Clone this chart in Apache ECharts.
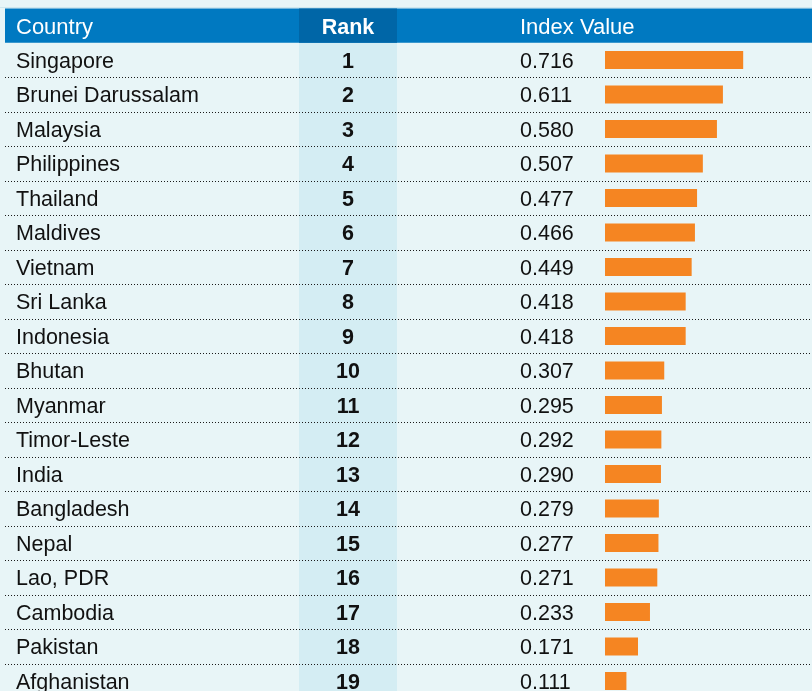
<!DOCTYPE html>
<html><head><meta charset="utf-8">
<script src="https://cdn.jsdelivr.net/npm/echarts@6/dist/echarts.min.js"></script>
<style>html,body{margin:0;padding:0;background:#e8f5f7}#c{width:812px;height:691px}</style>
</head><body><div id="c"></div>
<script>
const headers = ['Country', 'Rank', 'Index Value'];
const countries = ['Singapore','Brunei Darussalam','Malaysia','Philippines','Thailand','Maldives','Vietnam','Sri Lanka','Indonesia','Bhutan','Myanmar','Timor-Leste','India','Bangladesh','Nepal','Lao, PDR','Cambodia','Pakistan','Afghanistan'];
const ranks = [1,2,3,4,5,6,7,8,9,10,11,12,13,14,15,16,17,18,19];
const values = [0.716,0.611,0.580,0.507,0.477,0.466,0.449,0.418,0.418,0.307,0.295,0.292,0.290,0.279,0.277,0.271,0.233,0.171,0.111];

const FONT = '"Liberation Sans", Arial, Helvetica, sans-serif';
const TOP = 42.75, H = 655.5;
const chart = echarts.init(document.getElementById('c'));
const labelBase = {fontFamily: FONT, fontSize: 21.5, color: '#111', inside: true};
const hiddenAxisParts = {axisLine: {show: false}, axisTick: {show: false}};

chart.setOption({
  animation: false,
  backgroundColor: '#e8f5f7',
  graphic: [
    {type: 'rect', z: -5, silent: true, shape: {x: 299, y: TOP, width: 98, height: 691 - TOP}, style: {fill: '#d4edf3'}},
    {type: 'rect', z: 100, silent: true, shape: {x: 0, y: 7, width: 812, height: 1}, style: {fill: '#cfe7ee'}},
    {type: 'rect', z: 100, silent: true, shape: {x: 5, y: 8.5, width: 807, height: TOP - 8.5}, style: {fill: '#0079c1'}},
    {type: 'rect', z: 101, silent: true, shape: {x: 299, y: 8.5, width: 98, height: TOP - 8.5}, style: {fill: '#0066a7'}},
    {type: 'text', z: 102, silent: true, x: 16, y: 27.5, style: {text: headers[0], fill: '#fff', font: '22px ' + FONT, textAlign: 'left', textVerticalAlign: 'middle'}},
    {type: 'text', z: 102, silent: true, x: 348, y: 28, style: {text: headers[1], fill: '#fff', font: 'bold 21.5px ' + FONT, textAlign: 'center', textVerticalAlign: 'middle'}},
    {type: 'text', z: 102, silent: true, x: 520, y: 27.5, style: {text: headers[2], fill: '#fff', font: '22px ' + FONT, textAlign: 'left', textVerticalAlign: 'middle'}}
  ],
  grid: [
    {left: 5, right: 0, top: TOP, height: H, outerBoundsMode: 'none', containLabel: false},
    {left: 605, width: 193, top: TOP, height: H, outerBoundsMode: 'none', containLabel: false},
    {left: 5, right: 0, top: TOP + 2, height: H, outerBoundsMode: 'none', containLabel: false}
  ],
  xAxis: [
    {gridIndex: 0, type: 'value', min: 0, max: 1, show: false},
    {gridIndex: 1, type: 'value', min: 0, max: 1, show: false},
    {gridIndex: 2, type: 'value', min: 0, max: 1, show: false}
  ],
  yAxis: [
    Object.assign({gridIndex: 0, type: 'category', data: countries, inverse: true, position: 'left', offset: 0,
      splitLine: {show: true, showMinLine: false, showMaxLine: false, lineStyle: {color: '#1a1a1a', width: 1, type: [1, 2]}},
      axisLabel: {show: false}}, hiddenAxisParts),
    {gridIndex: 1, type: 'category', data: countries, inverse: true, show: false},
    Object.assign({gridIndex: 2, type: 'category', data: countries, inverse: true, position: 'left', offset: 0,
      splitLine: {show: false},
      axisLabel: Object.assign({}, labelBase, {margin: 11, align: 'left', interval: 0})}, hiddenAxisParts),
    Object.assign({gridIndex: 2, type: 'category', data: ranks.map(String), inverse: true, position: 'left', offset: 0,
      splitLine: {show: false},
      axisLabel: Object.assign({}, labelBase, {margin: 343, align: 'center', fontWeight: 'bold', interval: 0})}, hiddenAxisParts),
    Object.assign({gridIndex: 2, type: 'category', data: values.map(v => v.toFixed(3)), inverse: true, position: 'left', offset: 0,
      splitLine: {show: false},
      axisLabel: Object.assign({}, labelBase, {margin: 515, align: 'left', interval: 0})}, hiddenAxisParts)
  ],
  series: [{
    type: 'bar', xAxisIndex: 1, yAxisIndex: 1, data: values, barWidth: 18, silent: true,
    itemStyle: {color: '#f58522'}
  }]
});
</script></body></html>
